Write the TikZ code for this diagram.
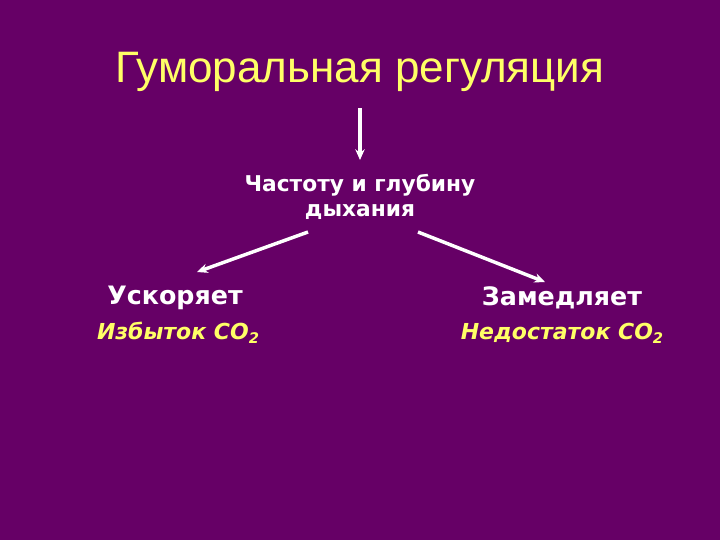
\documentclass[tikz,border=0pt]{standalone}
\usepackage{fontspec}
\usetikzlibrary{arrows.meta}
\setmainfont{DejaVu Sans}
\newfontfamily\titlefont{Liberation Sans}
\newcommand{\subtwo}{\raisebox{-3pt}{\fontsize{11}{13}\selectfont 2}}
\begin{document}
\begin{tikzpicture}[x=0.75pt,y=-0.75pt]
\definecolor{bg}{HTML}{660066}
\definecolor{ttl}{HTML}{FFFF66}
\tikzset{arr/.style={white,line width=2.6pt,-{Stealth[length=8pt,width=7pt]}},
 wtxt/.style={white,font=\bfseries\fontsize{16.3}{19}\selectfont,align=center},
 big/.style={white,font=\bfseries\fontsize{19}{22}\selectfont},
 ytxt/.style={ttl,font=\bfseries\itshape\fontsize{16.5}{19}\selectfont}}
\fill[bg] (0,0) rectangle (720,540);
\useasboundingbox (0,0) rectangle (720,540);
\node[ttl,font=\titlefont\fontsize{33}{39}\selectfont] (t) at (360,72) {Гуморальная регуляция};
\node[wtxt] (c) at (360,197) {Частоту и глубину\\дыхания};
\coordinate (a0) at (360,108); \coordinate (a1) at (360,160);
\draw[arr] (a0) -- (a1);
\node[big] (u) at (175,298) {Ускоряет};
\node[big] (z) at (562,298) {Замедляет};
\node[ytxt] (u2) at (178,333) {Избыток CO\subtwo};
\node[ytxt] (z2) at (562,333) {Недостаток CO\subtwo};
\coordinate (l0) at (308,232); \coordinate (l1) at (197,272);
\coordinate (r0) at (418,232); \coordinate (r1) at (545,282);
\draw[arr] (l0) -- (l1);
\draw[arr] (r0) -- (r1);
\end{tikzpicture}
\end{document}
